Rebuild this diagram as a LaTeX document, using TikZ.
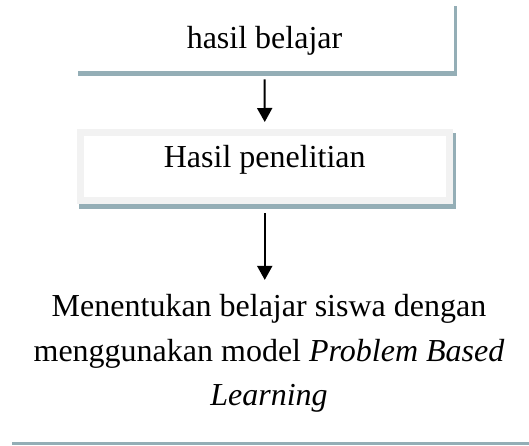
\documentclass[tikz,border=0pt]{standalone}
\usepackage{fontspec}
\setmainfont{Liberation Serif}
\usetikzlibrary{arrows.meta}
\definecolor{shadowc}{RGB}{148,174,182}
\definecolor{framec}{RGB}{242,242,242}
\begin{document}
\begin{tikzpicture}[x=0.5pt,y=-0.5pt,
  txt/.style={font=\fontsize{16}{22.25}\selectfont},
  flow/.style={line width=1pt,-{Triangle[length=7pt,width=7.5pt]}}]
  \useasboundingbox (0,0) rectangle (529,445);
  % shadows behind the two boxes
  \fill[shadowc] (78,6) rectangle (457,76);
  \fill[shadowc] (79,133) rectangle (456,208.5);
  % top box
  \node[txt,fill=white,inner sep=0pt,minimum width=189.5pt,
        text height=28.5pt,text depth=11.5pt,anchor=base] (top) at (264.5,48) {hasil belajar};
  % middle box with light frame
  \node[txt,fill=white,draw=framec,line width=3.5pt,inner sep=0pt,minimum width=184.75pt,
        text height=17.25pt,text depth=16.5pt,anchor=base] (pen) at (264.75,167) {Hasil penelitian};
  % conclusion text (base anchor sits on the last line)
  \node[txt,align=center,inner sep=0pt,anchor=base] (res) at (269,405.5)
    {Menentukan belajar siswa dengan\\menggunakan model \textit{Problem Based}\\\textit{Learning}};
  % connectors
  \draw[flow] ([yshift=-4pt]top.south) -- ([yshift=3.5pt]pen.north);
  \draw[flow] ([yshift=-4.75pt]pen.south) -- ([yshift=7pt]pen.south |- res.north);
  % rule along the bottom
  \fill[shadowc] (12,442) rectangle (529,445);
\end{tikzpicture}
\end{document}
